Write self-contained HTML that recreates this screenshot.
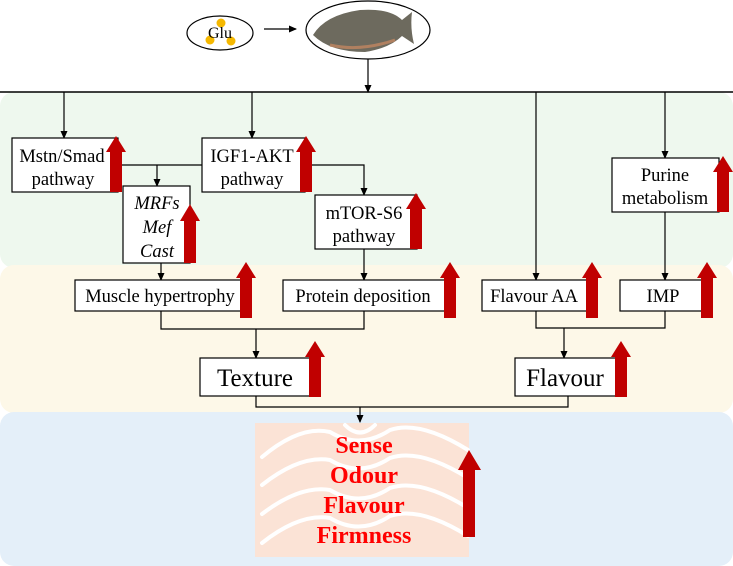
<!DOCTYPE html>
<html><head><meta charset="utf-8"><style>body{margin:0;background:#fff}svg{display:block}</style></head><body>
<svg width="733" height="566" viewBox="0 0 733 566" xmlns="http://www.w3.org/2000/svg" font-family="Liberation Serif, serif">
<defs>
<marker id="a" markerWidth="8" markerHeight="8" refX="7" refY="4" orient="auto" markerUnits="userSpaceOnUse"><path d="M0,0.5 L8,4 L0,7.5z" fill="#000"/></marker>
<g id="up"><path d="M-6,0 L-6,-40 L-10,-40 L0,-56 L10,-40 L6,-40 L6,0z" fill="#c00000"/></g>
</defs>
<rect x="0" y="92" width="733" height="176" rx="14" fill="#eef8ee"/>
<rect x="0" y="265" width="733" height="148" rx="14" fill="#fdf8e8"/>
<rect x="0" y="412" width="733" height="154" rx="14" fill="#e4eff9"/>
<ellipse cx="220" cy="33" rx="33" ry="17" fill="#fff" stroke="#000" stroke-width="1.2"/>
<circle cx="221" cy="23" r="4.5" fill="#f5b800"/><circle cx="210" cy="40" r="4.5" fill="#f5b800"/><circle cx="231" cy="41" r="4.5" fill="#f5b800"/>
<text x="220" y="38" font-size="16" text-anchor="middle">Glu</text>
<line x1="264" y1="29" x2="296" y2="29" stroke="#000" stroke-width="1.2" marker-end="url(#a)"/>
<ellipse cx="368" cy="30" rx="62" ry="29" fill="#fff" stroke="#000" stroke-width="1.2"/>
<path d="M313,35 Q325,15 360,10 Q390,8 402,20 L412,12 Q410,28 414,44 L402,36 Q390,48 365,52 Q330,52 313,35z" fill="#6d6a5e"/>
<path d="M330,45 Q360,52 395,40" stroke="#b08060" stroke-width="3" fill="none"/>
<line x1="368" y1="59" x2="368" y2="92" stroke="#000" stroke-width="1.2" marker-end="url(#a)"/>
<line x1="0" y1="92" x2="733" y2="92" stroke="#000" stroke-width="1.5"/>
<g stroke="#000" stroke-width="1.2" fill="none">
<line x1="64" y1="92" x2="64" y2="138" marker-end="url(#a)"/>
<line x1="252" y1="92" x2="252" y2="138" marker-end="url(#a)"/>
<line x1="536" y1="92" x2="536" y2="280" marker-end="url(#a)"/>
<line x1="665" y1="92" x2="665" y2="158" marker-end="url(#a)"/>
<line x1="118" y1="165" x2="202" y2="165"/>
<line x1="157" y1="165" x2="157" y2="186" marker-end="url(#a)"/>
<polyline points="305,165 364,165 364,195" marker-end="url(#a)"/>
<line x1="161" y1="263" x2="161" y2="280" marker-end="url(#a)"/>
<line x1="364" y1="249" x2="364" y2="280" marker-end="url(#a)"/>
<line x1="665" y1="212" x2="665" y2="280" marker-end="url(#a)"/>
<polyline points="161,311 161,329 364,329 364,311"/>
<line x1="256" y1="329" x2="256" y2="358" marker-end="url(#a)"/>
<polyline points="536,311 536,328 665,328 665,311"/>
<line x1="564" y1="328" x2="564" y2="358" marker-end="url(#a)"/>
<polyline points="256,396 256,407 568,407 568,396"/>
<line x1="360" y1="407" x2="360" y2="422" marker-end="url(#a)"/>
</g>
<g fill="#fff" stroke="#000" stroke-width="1.2">
<rect x="12" y="138" width="106" height="54"/>
<rect x="202" y="138" width="103" height="54"/>
<rect x="123" y="186" width="67" height="77"/>
<rect x="315" y="195" width="102" height="54"/>
<rect x="612" y="158" width="107" height="54"/>
<rect x="75" y="280" width="167" height="31"/>
<rect x="283" y="280" width="162" height="31"/>
<rect x="482" y="280" width="106" height="31"/>
<rect x="620" y="280" width="82" height="31"/>
<rect x="200" y="358" width="110" height="38"/>
<rect x="515" y="358" width="101" height="38"/>
</g>
<g font-size="18.5" text-anchor="middle">
<text x="62" y="162">Mstn/Smad</text><text x="63" y="185">pathway</text>
<text x="252" y="162">IGF1-AKT</text><text x="252" y="185">pathway</text>
<text x="157" y="209" font-style="italic">MRFs</text><text x="157" y="233" font-style="italic">Mef</text><text x="157" y="257" font-style="italic">Cast</text>
<text x="364" y="219">mTOR-S6</text><text x="364" y="242">pathway</text>
<text x="665" y="181">Purine</text><text x="665" y="204">metabolism</text>
<text x="160" y="302">Muscle hypertrophy</text>
<text x="363" y="302">Protein deposition</text>
<text x="534" y="302">Flavour AA</text>
<text x="663" y="302">IMP</text>
<text x="255" y="386" font-size="25">Texture</text>
<text x="565" y="386" font-size="25">Flavour</text>
</g>
<use href="#up" transform="translate(116,192)"/>
<use href="#up" transform="translate(306,192)"/>
<use href="#up" transform="translate(190,263) scale(1,1.05)"/>
<use href="#up" transform="translate(416,249)"/>
<use href="#up" transform="translate(723,212)"/>
<use href="#up" transform="translate(246,318)"/>
<use href="#up" transform="translate(450,318)"/>
<use href="#up" transform="translate(592,318)"/>
<use href="#up" transform="translate(707,318)"/>
<use href="#up" transform="translate(315,397)"/>
<use href="#up" transform="translate(621,397)"/>
<rect x="255" y="423" width="214" height="134" fill="#fbe3d6"/>
<g stroke="#fff" stroke-width="4" fill="none" stroke-linecap="round">
<path d="M262,457 Q300,425 330,432 Q360,450 390,430 Q420,420 468,450"/>
<path d="M262,485 Q300,455 330,460 Q360,478 390,458 Q420,448 468,478"/>
<path d="M262,514 Q300,485 330,490 Q360,508 390,488 Q420,478 468,508"/>
<path d="M262,543 Q300,513 330,518 Q360,536 390,516 Q420,506 468,536"/>
<path d="M345,425 Q360,440 375,425"/>
</g>
<g font-size="24" font-weight="bold" fill="#ff0000" text-anchor="middle">
<text x="364" y="453">Sense</text><text x="364" y="483">Odour</text><text x="364" y="513">Flavour</text><text x="364" y="543">Firmness</text>
</g>
<path d="M463,537 L463,470 L458,470 L469,450 L481,470 L475,470 L475,537z" fill="#c00000"/>
</svg>
</body></html>
